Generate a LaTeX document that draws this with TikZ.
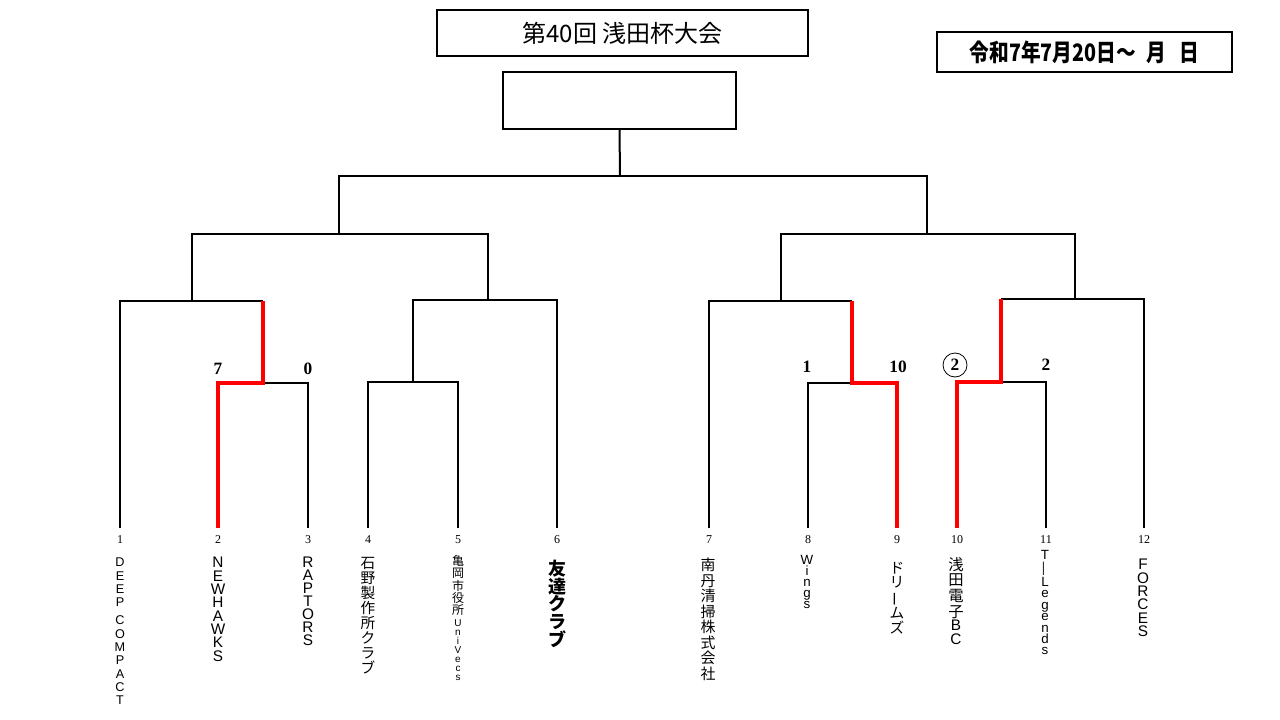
\documentclass[tikz,border=0pt]{standalone}
\usepackage{fontspec}
\usepackage{graphicx}
\setmainfont{Liberation Serif}
\setsansfont{Liberation Sans}
\newfontfamily\jp{Noto Sans CJK JP}
\newfontfamily\jpdate[FakeStretch=0.82]{Noto Sans CJK JP}
\newcommand\latn[1]{{\sffamily\fontsize{7.5}{7}\selectfont #1}}
\newcommand\vbar{\rotatebox[origin=c]{90}{ー}}
\newcommand\vdsh{\rotatebox[origin=c]{90}{—}}

\tikzset{
  line/.style={line width=1.5pt},
  win/.style={red, line width=2.6pt},
  box/.style={draw, line width=0.8pt, inner sep=0pt},
  team/.style={anchor=north, align=center, inner sep=0pt},
  seed/.style={font=\fontsize{9}{9}\selectfont, inner sep=0pt},
  score/.style={font=\fontsize{13}{13}\selectfont\bfseries, inner sep=0pt}
}

\begin{document}
\begin{tikzpicture}[x=0.75pt, y=-0.75pt]
  \useasboundingbox (0,0) rectangle (1280,720);

  \node[box, minimum width=278.25pt, minimum height=34.5pt, font=\jp\fontsize{18}{18}\selectfont] (title) at (622.5,33) {第40回 浅田杯大会};
  \node[box, minimum width=174.75pt, minimum height=42.75pt] (champ) at (619.5,100.5) {};
  \node[box, line width=1.1pt, minimum width=221.25pt, minimum height=30pt, font=\jpdate\bfseries\fontsize{18}{18}\selectfont] (date) at (1084.5,52) {令和7年7月20日～\hspace{0.45em}月\hspace{0.55em}日};

  \foreach \i/\x in {1/120,2/218,3/308,4/368,5/458,6/557,7/709,8/808,9/897,10/957,11/1046,12/1144} {
    \coordinate (t\i) at (\x,528);
    \node[seed] (s\i) at (\x,540) {\i};
  }

  \coordinate (a1) at (263,301);
  \coordinate (m1) at (263,383);
  \coordinate (m2) at (413,382);
  \coordinate (a2) at (413,300);
  \coordinate (b1) at (192,234);
  \coordinate (b2) at (488,234);
  \coordinate (c1) at (339,234);
  \coordinate (a3) at (852,301);
  \coordinate (m3) at (852,383);
  \coordinate (m4) at (1001,382);
  \coordinate (a4) at (1001,299);
  \coordinate (b3) at (781,234);
  \coordinate (b4) at (1075,234);
  \coordinate (c2) at (927,234);
  \coordinate (f) at (620,176);

  % left half
  \draw[line] (t1) |- (a1);
  \draw[line] (m1) -| (t3);
  \draw[line] (t4) |- (m2) -| (t5);
  \draw[line] (m2) -- (a2) -| (t6);
  \draw[line] (b1 |- a1) -- (b1) -- (b2) -- (b2 |- a2);
  \draw[win] (a1) -- (m1) -| (t2);

  % right half
  \draw[line] (t7) |- (a3);
  \draw[line] (m3) -| (t8);
  \draw[line] (m4) -| (t11);
  \draw[line] (a4) -| (t12);
  \draw[line] (b3 |- a3) -- (b3) -- (b4) -- (b4 |- a4);
  \draw[win] (a3) -- (m3) -| (t9);
  \draw[win] (a4) -- (m4) -| (t10);

  % final
  \draw[line] (c1) |- (f) -| (c2);
  \draw[line] (f) -- (champ.south);

  \node[score] (p1) at (218,369) {7};
  \node[score] (p2) at (308,369) {0};
  \node[score] (p3) at (807,367) {1};
  \node[score] (p4) at (898,367) {10};
  \node[score, circle, draw, line width=0.6pt, minimum size=18pt] (p5) at (955,365) {2};
  \node[score] (p6) at (1046,365) {2};

  \node[team, font=\sffamily\fontsize{9.5}{10}\selectfont] (n1) at (120,558) {D\\E\\E\\P\\[3.5pt]C\\O\\M\\P\\A\\C\\T};
  \node[team, font=\sffamily\fontsize{11.5}{10}\selectfont] (n2) at (218,557) {N\\E\\W\\H\\A\\W\\K\\S};
  \node[team, font=\sffamily\fontsize{11.5}{9.75}\selectfont] (n3) at (308,557) {R\\A\\P\\T\\O\\R\\S};
  \node[team, font=\jp\fontsize{11}{11.3}\selectfont] (n4) at (368,557) {石\\野\\製\\作\\所\\ク\\ラ\\ブ};
  \node[team, font=\jp\fontsize{9}{9.3}\selectfont] (n5) at (458,555) {亀\\岡\\市\\役\\所\\[-1pt]\latn{U}\\[-2.5pt]\latn{n}\\[-2.5pt]\latn{i}\\[-2.5pt]\latn{V}\\[-2.5pt]\latn{e}\\[-2.5pt]\latn{c}\\[-2.5pt]\latn{s}};
  \node[team, font=\jp\bfseries\fontsize{13.5}{13.2}\selectfont] (n6) at (557,560) {友\\達\\ク\\ラ\\ブ};
  \node[team, font=\jp\fontsize{11.2}{11.6}\selectfont] (n7) at (708,558) {南\\丹\\清\\掃\\株\\式\\会\\社};
  \node[team, font=\sffamily\fontsize{10}{8.2}\selectfont] (n8) at (807,555) {W\\i\\n\\g\\s};
  \node[team, font=\jp\fontsize{11}{10.7}\selectfont] (n9) at (897,562) {ド\\リ\\\vbar\\ム\\ズ};
  \node[team, font=\jp\fontsize{11.5}{11.8}\selectfont] (n10) at (956,557) {浅\\田\\電\\子\\[-2pt]{\sffamily B}\\[-1.5pt]{\sffamily C}};
  \node[team, font=\sffamily\fontsize{10}{8.6}\selectfont] (n11) at (1045,550) {T\\\vdsh\\L\\e\\g\\e\\n\\d\\s};
  \node[team, font=\sffamily\fontsize{11.5}{10}\selectfont] (n12) at (1143,559) {F\\O\\R\\C\\E\\S};
\end{tikzpicture}
\end{document}
